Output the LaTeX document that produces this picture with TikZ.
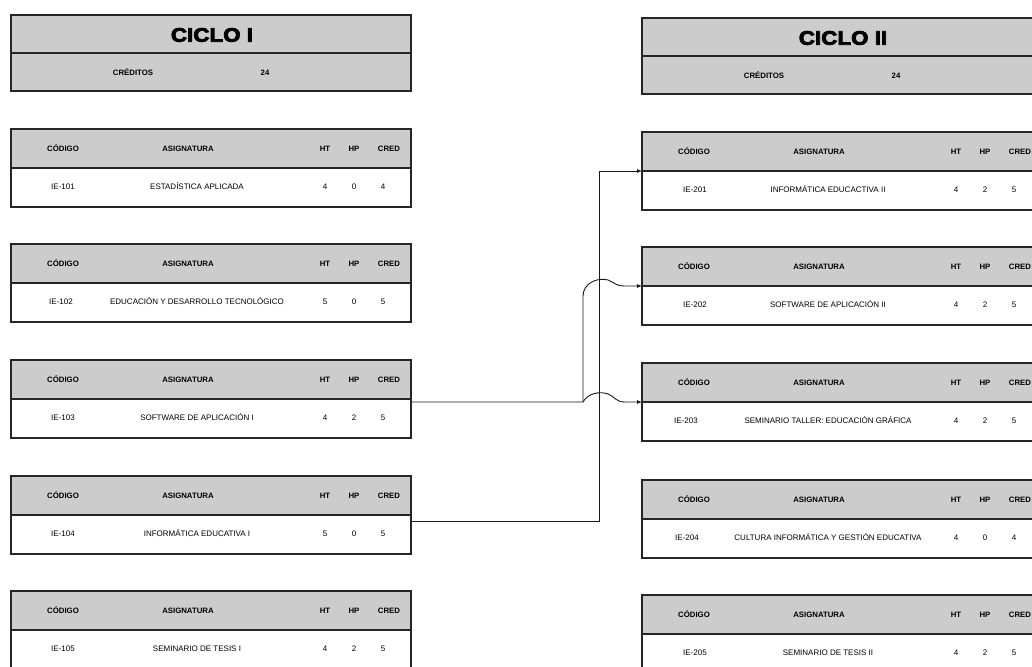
\documentclass[tikz,border=0pt]{standalone}
\usepackage{fontspec}
\setmainfont{Liberation Sans}
\newfontfamily\blackfont[FakeStretch=1.15,FakeBold=4]{Liberation Sans}
\usetikzlibrary{arrows.meta}
\tikzset{
  boxshape/.style={minimum width=400pt, minimum height=78pt, inner sep=0pt, outer sep=0pt},
  cicloshape/.style={minimum width=400pt, minimum height=76pt, inner sep=0pt, outer sep=0pt},
  hdrfill/.style={fill=black!20},
  boxline/.style={draw=black!85, line width=1.1pt},
  hdr/.style={font=\bfseries\fontsize{7.8}{9}\selectfont, inner sep=0pt, text height=5.6pt, text depth=0pt},
  val/.style={font=\fontsize{8}{10}\selectfont, inner sep=0pt, text height=5.8pt, text depth=0pt},
  titletext/.style={font=\blackfont\bfseries\fontsize{19.5}{22}\selectfont, inner sep=0pt},
  link/.style={draw=black!90, line width=0.9pt},
  arr/.style={-{Latex[length=5pt,width=4pt]}}
}
% #1 name, #2 left x, #3 top y, #4 code x offset, #5 code, #6 title, #7 HT, #8 HP, #9 CRED
\newcommand{\coursebox}[9]{%
  \node[boxshape] (#1) at ({#2+200},{#3+39}) {};
  \fill[hdrfill] (#1.north west) rectangle (#1.east);
  \draw[boxline] (#1.west) -- (#1.east);
  \draw[boxline] (#1.north west) rectangle (#1.south east);
  \node[hdr] (#1-hc) at ([shift={(52,19.5)}]#1.north west) {CÓDIGO};
  \node[hdr] (#1-ha) at ([shift={(177,19.5)}]#1.north west) {ASIGNATURA};
  \node[hdr] (#1-hht) at ([shift={(314,19.5)}]#1.north west) {HT};
  \node[hdr] (#1-hhp) at ([shift={(343,19.5)}]#1.north west) {HP};
  \node[hdr] (#1-hcr) at ([shift={(378,19.5)}]#1.north west) {CRED};
  \node[val] (#1-c) at ([shift={(#4,58)}]#1.north west) {#5};
  \node[val] (#1-t) at ([shift={(186,58)}]#1.north west) {#6};
  \node[val] (#1-ht) at ([shift={(314,58)}]#1.north west) {#7};
  \node[val] (#1-hp) at ([shift={(343,58)}]#1.north west) {#8};
  \node[val] (#1-cr) at ([shift={(372,58)}]#1.north west) {#9};
}
% #1 name, #2 left x, #3 top y, #4 title
\newcommand{\ciclobox}[4]{%
  \node[cicloshape] (#1) at ({#2+200},{#3+38}) {};
  \fill[hdrfill] (#1.north west) rectangle (#1.south east);
  \draw[boxline] (#1.west) -- (#1.east);
  \draw[boxline] (#1.north west) rectangle (#1.south east);
  \node[titletext] (#1-t) at ([shift={(201,20)}]#1.north west) {#4};
  \node[hdr] (#1-cl) at ([shift={(122,58)}]#1.north west) {CRÉDITOS};
  \node[hdr] (#1-cv) at ([shift={(254,58)}]#1.north west) {24};
}
\begin{document}
\begin{tikzpicture}[x=1pt,y=-1pt]
\useasboundingbox (0,0) rectangle (1032,666);
\clip (0,0) rectangle (1032,666);
\fill[white] (0,0) rectangle (1032,666);

\ciclobox{C1}{11}{15}{CICLO I}
\ciclobox{C2}{642}{18}{CICLO II}

\coursebox{L1}{11}{129}{52}{IE-101}{ESTADÍSTICA APLICADA}{4}{0}{4}
\coursebox{L2}{11}{244}{50}{IE-102}{EDUCACIÓN Y DESARROLLO TECNOLÓGICO}{5}{0}{5}
\coursebox{L3}{11}{360}{52}{IE-103}{SOFTWARE DE APLICACIÓN I}{4}{2}{5}
\coursebox{L4}{11}{476}{52}{IE-104}{INFORMÁTICA EDUCATIVA I}{5}{0}{5}
\coursebox{L5}{11}{591}{52}{IE-105}{SEMINARIO DE TESIS I}{4}{2}{5}

\coursebox{R1}{642}{132}{53}{IE-201}{INFORMÁTICA EDUCACTIVA II}{4}{2}{5}
\coursebox{R2}{642}{247}{53}{IE-202}{SOFTWARE DE APLICACIÓN II}{4}{2}{5}
\coursebox{R3}{642}{363}{44}{IE-203}{SEMINARIO TALLER: EDUCACIÓN GRÁFICA}{4}{2}{5}
\coursebox{R4}{642}{480}{45}{IE-204}{CULTURA INFORMÁTICA Y GESTIÓN EDUCATIVA}{4}{0}{4}
\coursebox{R5}{642}{595}{53}{IE-205}{SEMINARIO DE TESIS II}{4}{2}{5}

\coordinate (jA) at (583,402);
\coordinate (jB) at (599,521);

\draw[link,arr] ([yshift=-3pt]L3.east) -- (jA)
  .. controls (588,393) and (600,391) .. (608,394)
  .. controls (615,397) and (616,402) .. (625,402) -- (R3.west);
\draw[link,arr] (jA) -- (583,296)
  .. controls (583,283) and (598,277) .. (608,280)
  .. controls (615,283) and (616,286) .. (625,286) -- (R2.west);
\draw[link,arr] ([yshift=-6pt]L4.east) -- (jB) -- (jB |- R1.west) -- (R1.west);
\end{tikzpicture}
\end{document}
